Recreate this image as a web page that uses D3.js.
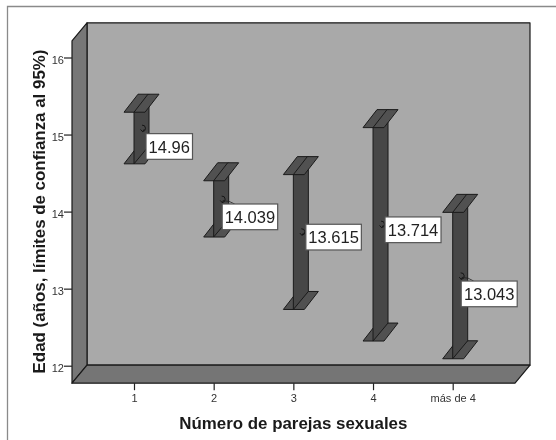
<!DOCTYPE html>
<html><head><meta charset="utf-8">
<script src="https://cdnjs.cloudflare.com/ajax/libs/d3/7.8.5/d3.min.js"></script>
<style>html,body{margin:0;padding:0;background:#fff}svg{display:block;filter:blur(0.45px)}text{font-family:"Liberation Sans",Arial,sans-serif}</style>
</head><body><svg id="c" width="556" height="440"></svg>
<script>
const categories = ["1","2","3","4","más de 4"];
const upper = [15.29,14.40,14.48,15.09,13.99];
const lower = [14.62,13.67,12.73,12.32,12.09];
const means = [14.96,14.039,13.615,13.714,13.043];
const meanLabels = ["14.96","14.039","13.615","13.714","13.043"];
const yTicks = [12,13,14,15,16];
const xTitle = "Número de parejas sexuales";
const yTitle = "Edad (años, límites de confianza al 95%)";

const svg = d3.select("#c");
const dx = 15, dy = -18;
const y = d3.scaleLinear().domain([12,16]).range([365.7,57.5]);
const x = d3.scalePoint().domain(categories).range([134,452.7]);
const L = 72, R = 515, B = 383.2, T = 40.8;

svg.append("path").attr("d","M556,6.5H7.5V440").attr("fill","none").attr("stroke","#8a8a8a").attr("stroke-width",1.3);

const poly = pts => "M"+pts.map(p=>p.join(",")).join("L")+"Z";
const wall = (pts,fill)=>svg.append("path").attr("d",poly(pts)).attr("fill",fill).attr("stroke","#1a1a1a").attr("stroke-width",1.2).attr("stroke-linejoin","round");
wall([[L+dx,T+dy],[R+dx,T+dy],[R+dx,B+dy],[L+dx,B+dy]],"#a9a9a9");
wall([[L,T],[L+dx,T+dy],[L+dx,B+dy],[L,B]],"#777");
wall([[L,B],[L+dx,B+dy],[R+dx,B+dy],[R,B]],"#757575");

const ax = svg.append("g").attr("transform",`translate(${L},0)`).call(d3.axisLeft(y).tickValues(yTicks).tickSize(8).tickFormat(d3.format("d")));
ax.select(".domain").remove();
ax.selectAll("line").attr("stroke","#222").attr("stroke-width",1.2);
ax.selectAll("text").attr("font-size",11).attr("fill","#333").attr("x",-8).attr("dy","0.5em").attr("font-family",'"Liberation Sans"');
const bx = svg.append("g").attr("transform",`translate(0,${B})`).call(d3.axisBottom(x).tickSize(7).tickFormat(d=>d));
bx.select(".domain").remove();
bx.selectAll("line").attr("stroke","#222").attr("stroke-width",1.2);
bx.selectAll("text").attr("font-size",11).attr("fill","#333").attr("y",11.5).attr("font-family",'"Liberation Sans"');

const capL=-10, capW=21, colW=15;
const dark="#474747", capFill="#515151", st="#1a1a1a";
categories.forEach((c,i)=>{
  const cx=x(c), t=y(upper[i]), b=y(lower[i]);
  const g=svg.append("g");
  const cap=(yy)=>poly([[cx+capL,yy],[cx+capL+capW,yy],[cx+capL+capW+dx-1,yy+dy],[cx+capL+dx-1,yy+dy]]);
  g.append("path").attr("d",cap(b)).attr("fill",capFill).attr("stroke",st);
  g.append("path").attr("d",poly([[cx,t],[cx+colW,t+dy],[cx+colW,b+dy],[cx,b]])).attr("fill",dark).attr("stroke",st);
  g.append("path").attr("d",cap(t)).attr("fill",capFill).attr("stroke",st);
  g.append("path").attr("d",`M${cx},${t}L${cx+dx-1},${t+dy}`).attr("stroke",st).attr("fill","none");
});

const lblW=[46.5,55.5,55.5,56,56], lblOff=[[4.5,5],[1,4.4],[5,-8],[4.5,-7.7],[1,4.7]];
const leader=[false,true,false,false,true];
categories.forEach((c,i)=>{
  const mx=x(c)+dx/2+1.5, my=y(means[i])+dy/2;
  svg.append("path").attr("d",`M${mx-1},${my-3.5}a3.2,3.2 0 0 1 0.5,6.5m-2,-2.2l2,2.2l1.8,-2.4`).attr("fill","none").attr("stroke","#111").attr("stroke-width",.9);
  const lx=x(c)+dx/2+lblOff[i][0], ly=my+lblOff[i][1];
  if(leader[i]) svg.append("path").attr("d",`M${mx},${my+1}Q${mx+7},${my+1} ${mx+12},${ly}`).attr("fill","none").attr("stroke","#222").attr("stroke-width",.8);
  svg.append("rect").attr("x",lx).attr("y",ly).attr("width",lblW[i]).attr("height",25.7).attr("fill","#fff").attr("stroke","#555").attr("stroke-width",1.2);
  svg.append("text").attr("x",lx+lblW[i]/2).attr("y",ly+19).attr("text-anchor","middle").attr("font-size",16.5).attr("fill","#222").text(meanLabels[i]);
});

svg.append("text").attr("x",293.3).attr("y",429.3).attr("text-anchor","middle").attr("font-size",16.9).attr("font-weight","bold").attr("fill","#1a1a1a").text(xTitle);
svg.append("text").attr("transform","translate(45,211.5) rotate(-90)").attr("text-anchor","middle").attr("font-size",16.9).attr("font-weight","bold").attr("fill","#1a1a1a").text(yTitle);
</script></body></html>
